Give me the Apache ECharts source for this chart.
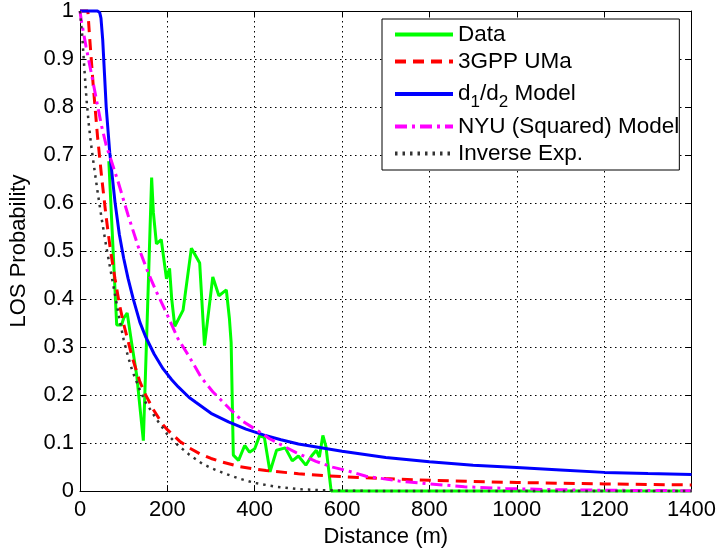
<!DOCTYPE html>
<html><head><meta charset="utf-8">
<script src="https://cdn.jsdelivr.net/npm/echarts@6/dist/echarts.min.js"></script>
<style>html,body{margin:0;padding:0;background:#fff}#c{width:719px;height:553px}</style>
</head><body><div id="c"></div>
<script>
// Measured data (green)
const dataDist = [66, 84, 95, 100, 108, 118, 130, 145, 155, 164, 168, 175, 186, 198, 205, 210, 217, 236, 255, 274, 285, 304, 318, 335, 342, 346, 351, 363, 377, 388, 400, 411, 422, 435, 450, 470, 486, 500, 517, 530, 541, 548, 556, 563, 575, 1400];
const dataProb = [0.687, 0.346, 0.346, 0.36, 0.371, 0.31, 0.24, 0.105, 0.39, 0.653, 0.58, 0.515, 0.524, 0.442, 0.464, 0.40, 0.343, 0.377, 0.506, 0.475, 0.303, 0.446, 0.407, 0.419, 0.36, 0.31, 0.075, 0.064, 0.095, 0.081, 0.088, 0.115, 0.112, 0.040, 0.085, 0.09, 0.063, 0.073, 0.054, 0.073, 0.085, 0.071, 0.116, 0.093, 0, 0];
// 3GPP UMa (red dashed)
const gppDist = [0, 18, 22, 30, 40, 50, 60, 70, 80, 90, 100, 120, 137, 150, 167, 190, 200, 228, 250, 274, 300, 320, 365, 400, 426, 500, 600, 700, 800, 900, 1000, 1100, 1200, 1300, 1400];
const gppProb = [1, 1, 0.946, 0.848, 0.74, 0.65, 0.57, 0.50, 0.443, 0.39, 0.348, 0.277, 0.228, 0.201, 0.171, 0.138, 0.128, 0.104, 0.09, 0.078, 0.068, 0.062, 0.051, 0.046, 0.043, 0.036, 0.030, 0.026, 0.0225, 0.020, 0.018, 0.0164, 0.015, 0.0138, 0.0129];
// d1/d2 Model (blue)
const d1Dist = [0, 40, 45, 48, 52, 56, 60, 68, 80, 90, 100, 110, 122, 137, 150, 170, 190, 210, 225, 250, 265, 300, 340, 380, 420, 460, 500, 600, 700, 800, 900, 1000, 1100, 1200, 1300, 1400];
const d1Prob = [1, 1, 0.997, 0.985, 0.94, 0.87, 0.80, 0.706, 0.603, 0.535, 0.485, 0.443, 0.40, 0.352, 0.322, 0.285, 0.255, 0.232, 0.217, 0.195, 0.185, 0.162, 0.144, 0.129, 0.117, 0.107, 0.098, 0.083, 0.070, 0.061, 0.054, 0.049, 0.044, 0.039, 0.0365, 0.0345];
// NYU (Squared) Model (magenta dash-dot)
const nyuDist = [0, 3, 14, 26, 37, 49, 60, 70, 87, 110, 133, 156, 175, 198, 224, 250, 278, 304, 342, 373, 403, 434, 449, 495, 540, 578, 610, 655, 730, 790, 880, 975, 1080, 1200, 1300, 1400];
const nyuProb = [1, 0.98, 0.925, 0.87, 0.818, 0.762, 0.72, 0.693, 0.645, 0.575, 0.51, 0.455, 0.415, 0.371, 0.318, 0.28, 0.236, 0.207, 0.172, 0.145, 0.128, 0.109, 0.102, 0.08, 0.062, 0.05, 0.043, 0.031, 0.021, 0.016, 0.009, 0.0055, 0.003, 0.0018, 0.0012, 0.0008];
// Inverse Exp. (black dotted)
const invDist = [0, 5, 10, 15, 20, 25, 30, 40, 50, 60, 70, 80, 90, 100, 110, 120, 135, 150, 175, 200, 225, 250, 280, 300, 330, 365, 400, 450, 500, 550, 600, 700, 1400];
const invProb = [1, 0.95, 0.88, 0.815, 0.765, 0.725, 0.69, 0.625, 0.565, 0.51, 0.46, 0.41, 0.36, 0.315, 0.28, 0.25, 0.215, 0.185, 0.15, 0.118, 0.095, 0.076, 0.057, 0.048, 0.037, 0.026, 0.017, 0.009, 0.004, 0.002, 0.001, 0, 0];

const seriesNames = ['Data', '3GPP UMa', 'd1/d2 Model', 'NYU (Squared) Model', 'Inverse Exp.'];
const xName = 'Distance (m)';
const yName = 'LOS Probability';

const zip = (a, b) => a.map((v, i) => [v, b[i]]);
const FONT = 'Liberation Sans, Arial, Helvetica, sans-serif';

const chart = echarts.init(document.getElementById('c'), null, {renderer: 'canvas'});

const baseX = {
  type: 'value', min: 0, max: 1400, interval: 200,
  axisLine: {show: true, onZero: false, lineStyle: {color: '#000', width: 1}},
  axisTick: {show: true, inside: true, length: 6, lineStyle: {color: '#000', width: 1}},
  minorTick: {show: false}
};
const baseY = {
  type: 'value', min: 0, max: 1, interval: 0.1,
  axisLine: {show: true, onZero: false, lineStyle: {color: '#000', width: 1}},
  axisTick: {show: true, inside: true, length: 6, lineStyle: {color: '#000', width: 1}}
};
const gridLine = {show: true, lineStyle: {color: '#000', width: 1, type: [1.5, 3.5]}};

function mk(name, d, p, color, width, type) {
  return {
    name: name, type: 'line', data: zip(d, p), symbol: 'none', clip: false,
    smooth: false, animation: false,
    lineStyle: {color: color, width: width, type: type},
    itemStyle: {color: color}
  };
}

chart.setOption({
  backgroundColor: '#fff',
  animation: false,
  textStyle: {fontFamily: FONT},
  grid: {left: 80, right: 25, top: 8.6, bottom: 60.3, containLabel: false},
  xAxis: [
    Object.assign({}, baseX, {
      position: 'bottom', name: xName, nameLocation: 'middle', nameGap: 33,
      nameTextStyle: {fontSize: 22, color: '#000', fontFamily: FONT},
      axisLabel: {show: true, margin: 8, fontSize: 22, color: '#000', fontFamily: FONT,
        formatter: v => String(v)},
      splitLine: gridLine
    }),
    Object.assign({}, baseX, {
      position: 'top', axisLabel: {show: false}, splitLine: {show: false}
    })
  ],
  yAxis: [
    Object.assign({}, baseY, {
      position: 'left', name: yName, nameLocation: 'middle', nameGap: 50,
      nameTextStyle: {fontSize: 22, color: '#000', fontFamily: FONT},
      axisLabel: {show: true, margin: 6, fontSize: 22, color: '#000', fontFamily: FONT,
        formatter: v => (v === 0 ? '0' : (v === 1 ? '1' : String(Math.round(v * 10) / 10)))},
      splitLine: gridLine
    }),
    Object.assign({}, baseY, {
      position: 'right', axisLabel: {show: false}, splitLine: {show: false}
    })
  ],
  legend: {
    show: true, orient: 'vertical', left: 382, top: 19,
    data: seriesNames,
    backgroundColor: '#fff', borderColor: '#000', borderWidth: 1, borderRadius: 0,
    padding: [4, 0, 5, 11], itemGap: 4, itemWidth: 58, itemHeight: 14,
    selectedMode: false,
    itemStyle: {opacity: 0},
    lineStyle: {width: 4},
    textStyle: {
      color: '#000', fontFamily: FONT, fontSize: 22.5,
      rich: {
        n: {fontSize: 22.5, lineHeight: 24, color: '#000', fontFamily: FONT},
        m: {fontSize: 22.5, lineHeight: 24, color: '#000', fontFamily: FONT, verticalAlign: 'top'},
        s: {fontSize: 17, lineHeight: 18, color: '#000', fontFamily: FONT, padding: [17, 0, 0, 0]}
      }
    },
    formatter: function (name) {
      if (name === 'd1/d2 Model') return '{m|d}{s|1}{m|/d}{s|2}{m| Model}';
      return '{n|' + name + '}';
    }
  },
  series: [
    mk(seriesNames[0], dataDist, dataProb, '#00ff00', 3, 'solid'),
    mk(seriesNames[1], gppDist, gppProb, '#ff0000', 3, [11, 7]),
    mk(seriesNames[2], d1Dist, d1Prob, '#0000ff', 3, 'solid'),
    mk(seriesNames[3], nyuDist, nyuProb, '#ff00ff', 3, [12, 5, 3, 5]),
    mk(seriesNames[4], invDist, invProb, '#333333', 2.5, [2.5, 5])
  ]
});
</script>
</body></html>
